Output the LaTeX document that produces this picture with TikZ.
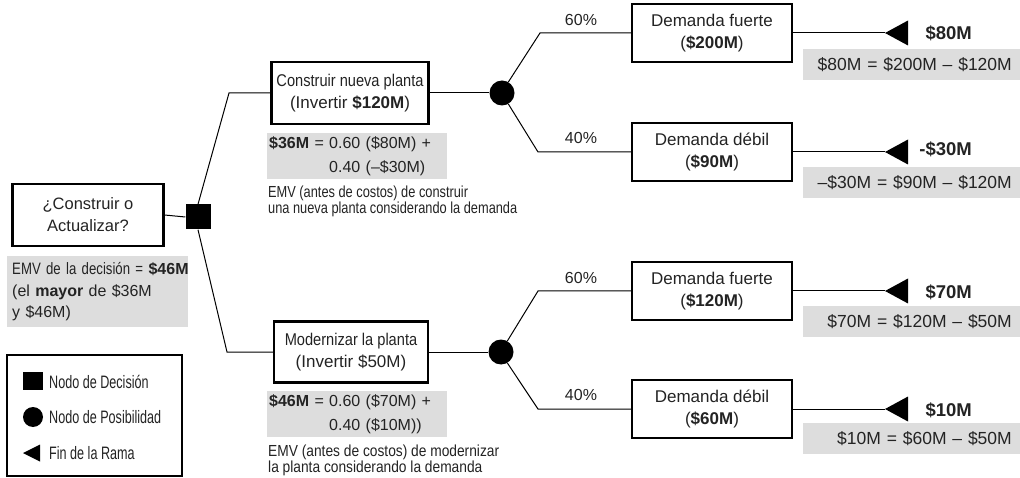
\documentclass[tikz,border=0pt]{standalone}
\usepackage{fontspec}
\setmainfont{Liberation Sans}
\newfontfamily\narrowfont[FakeStretch=0.8]{Liberation Sans}
\newfontfamily\semifont[FakeStretch=0.86]{Liberation Sans}
\newfontfamily\condfont[FakeStretch=0.7]{Liberation Sans}
\usetikzlibrary{positioning}
\definecolor{notegray}{RGB}{221,221,221}
\definecolor{inkgray}{RGB}{35,35,35}

\begin{document}
\begin{tikzpicture}[x=1pt,y=-1pt,
  box/.style={draw=black, line width=2.2pt, align=center, inner sep=0pt, text=inkgray, font=\fontsize{17}{22}\selectfont},
  decnode/.style={fill=black, minimum size=25pt, inner sep=0pt},
  chancenode/.style={circle, fill=black, minimum size=25pt, inner sep=0pt},
  branch/.style={line width=1pt},
  note/.style={fill=notegray, inner sep=0pt, text=inkgray, font=\fontsize{16}{22}\selectfont},
  endnote/.style={note, anchor=north east, minimum height=31pt, inner xsep=8pt, text width=201pt, align=right, font=\fontsize{17.5}{20}\selectfont},
  small/.style={text=inkgray, font=\narrowfont\fontsize{16}{15.5}\selectfont, align=left, inner sep=0pt, anchor=north west},
  prob/.style={text=inkgray, font=\fontsize{16}{16}\selectfont, inner sep=0pt},
  endval/.style={text=inkgray, font=\bfseries\fontsize{18.5}{18.5}\selectfont, anchor=east, inner sep=0pt},
  legtext/.style={text=inkgray, font=\condfont\fontsize{18}{18}\selectfont, anchor=west, inner sep=0pt}]
\useasboundingbox (0,0) rectangle (1020,478);

\node[box, minimum width=151pt, minimum height=62pt, font=\fontsize{16.5}{22}\selectfont] (question) at (88,215) {¿Construir o\\Actualizar?};
\node[decnode] (dec) at (198,217) {};
\node[box, minimum width=157pt, minimum height=62pt] (build) at (350,93) {{\semifont Construir nueva planta}\\(Invertir \textbf{\$120M})};
\node[box, minimum width=154pt, minimum height=61pt] (upg) at (351,352) {{\semifont Modernizar la planta}\\(Invertir \$50M)};
\node[chancenode] (c1) at (502,93) {};
\node[chancenode] (c2) at (501,352) {};

\node[box, minimum width=160pt, minimum height=58pt] (d1) at (712,33) {Demanda fuerte\\(\textbf{\$200M})};
\node[box, minimum width=160pt, minimum height=58pt] (d2) at (712,152) {Demanda débil\\(\textbf{\$90M})};
\node[box, minimum width=160pt, minimum height=58pt] (d3) at (712,291) {Demanda fuerte\\(\textbf{\$120M})};
\node[box, minimum width=160pt, minimum height=58pt] (d4) at (712,409) {Demanda débil\\(\textbf{\$60M})};

\coordinate (k1) at (229,93);
\coordinate (k2) at (227,352);
\coordinate (k3) at (540,33);
\coordinate (k4) at (538,152);
\coordinate (k5) at (538,291);
\coordinate (k6) at (538,409);
\coordinate (e1) at (885,33);
\coordinate (e2) at (885,152);
\coordinate (e3) at (885,291);
\coordinate (e4) at (885,409);

\draw[branch] (question.east) -- (dec.west);
\draw[branch] (dec.north) -- (k1) -- (build.west);
\draw[branch] (dec.south) -- (k2) -- (upg.west);
\draw[branch] (build.east) -- (c1.west);
\draw[branch] (upg.east) -- (c2.west);
\draw[branch] (c1.60) -- (k3) -- (d1.west);
\draw[branch] (c1.-60) -- (k4) -- (d2.west);
\draw[branch] (c2.60) -- (k5) -- (d3.west);
\draw[branch] (c2.-60) -- (k6) -- (d4.west);
\draw[branch] (d1.east) -- (e1);
\draw[branch] (d2.east) -- (e2);
\draw[branch] (d3.east) -- (e3);
\draw[branch] (d4.east) -- (e4);
\foreach \e in {e1,e2,e3,e4}
  \fill (\e) -- ++(23,-12.5) -- ++(0,25) -- cycle;

\node[prob] (p1) at (581,20) {60\%};
\node[prob] (p2) at (581,138) {40\%};
\node[prob] (p3) at (581,278) {60\%};
\node[prob] (p4) at (581,395) {40\%};

\node[endval] (v1) at (972,33) {\$80M};
\node[endval] (v2) at (972,149) {-\$30M};
\node[endval] (v3) at (972,292) {\$70M};
\node[endval] (v4) at (972,410) {\$10M};

\node[endnote] (n1) at (1020,49) {\$80M = \$200M – \$120M};
\node[endnote] (n2) at (1020,167) {–\$30M = \$90M – \$120M};
\node[endnote] (n3) at (1020,306) {\$70M = \$120M – \$50M};
\node[endnote] (n4) at (1020,423) {\$10M = \$60M – \$50M};

\node[note, anchor=north west, minimum height=46pt, inner xsep=2pt, text width=176pt, align=left, font=\fontsize{16}{24}\selectfont] (emv1) at (267,133)
  {\textbf{\$36M} = 0.60 (\$80M) +\\\phantom{\textbf{\$36M} = }0.40 (–\$30M)};
\node[note, anchor=north west, minimum height=46pt, inner xsep=2pt, text width=176pt, align=left, font=\fontsize{16}{24}\selectfont] (emv2) at (267,391)
  {\textbf{\$46M} = 0.60 (\$70M) +\\\phantom{\textbf{\$46M} = }0.40 (\$10M))};
\node[small] (txt1) at (268,186) {EMV (antes de costos) de construir\\una nueva planta considerando la demanda};
\node[small, font=\semifont\fontsize{16}{15.5}\selectfont] (txt2) at (268,445) {EMV (antes de costos) de modernizar\\la planta considerando la demanda};

\node[note, anchor=north west, minimum height=71pt, inner xsep=5pt, text width=171pt, align=left, font=\fontsize{16}{21.5}\selectfont] (emv0) at (7,256)
  {\mbox{{\narrowfont\fontsize{16.5}{21.5}\selectfont EMV de la decisión =} \textbf{\$46M}}\\(el \textbf{mayor} de \$36M\\y \$46M)};

\node[draw=black, line width=2.2pt, minimum width=175pt, minimum height=121pt, inner sep=0pt] (legend) at (94.5,415.5) {};
\node[fill=black, minimum width=20pt, minimum height=18pt, inner sep=0pt] (lsq) at (33,381) {};
\node[circle, fill=black, minimum size=20pt, inner sep=0pt] (lci) at (33,417) {};
\coordinate (ltr) at (23,453);
\fill (ltr) -- ++(17,-8.5) -- ++(0,17) -- cycle;
\node[legtext] (l1) at (49,382) {Nodo de Decisión};
\node[legtext] (l2) at (49,417) {Nodo de Posibilidad};
\node[legtext] (l3) at (49,453) {Fin de la Rama};
\end{tikzpicture}
\end{document}
